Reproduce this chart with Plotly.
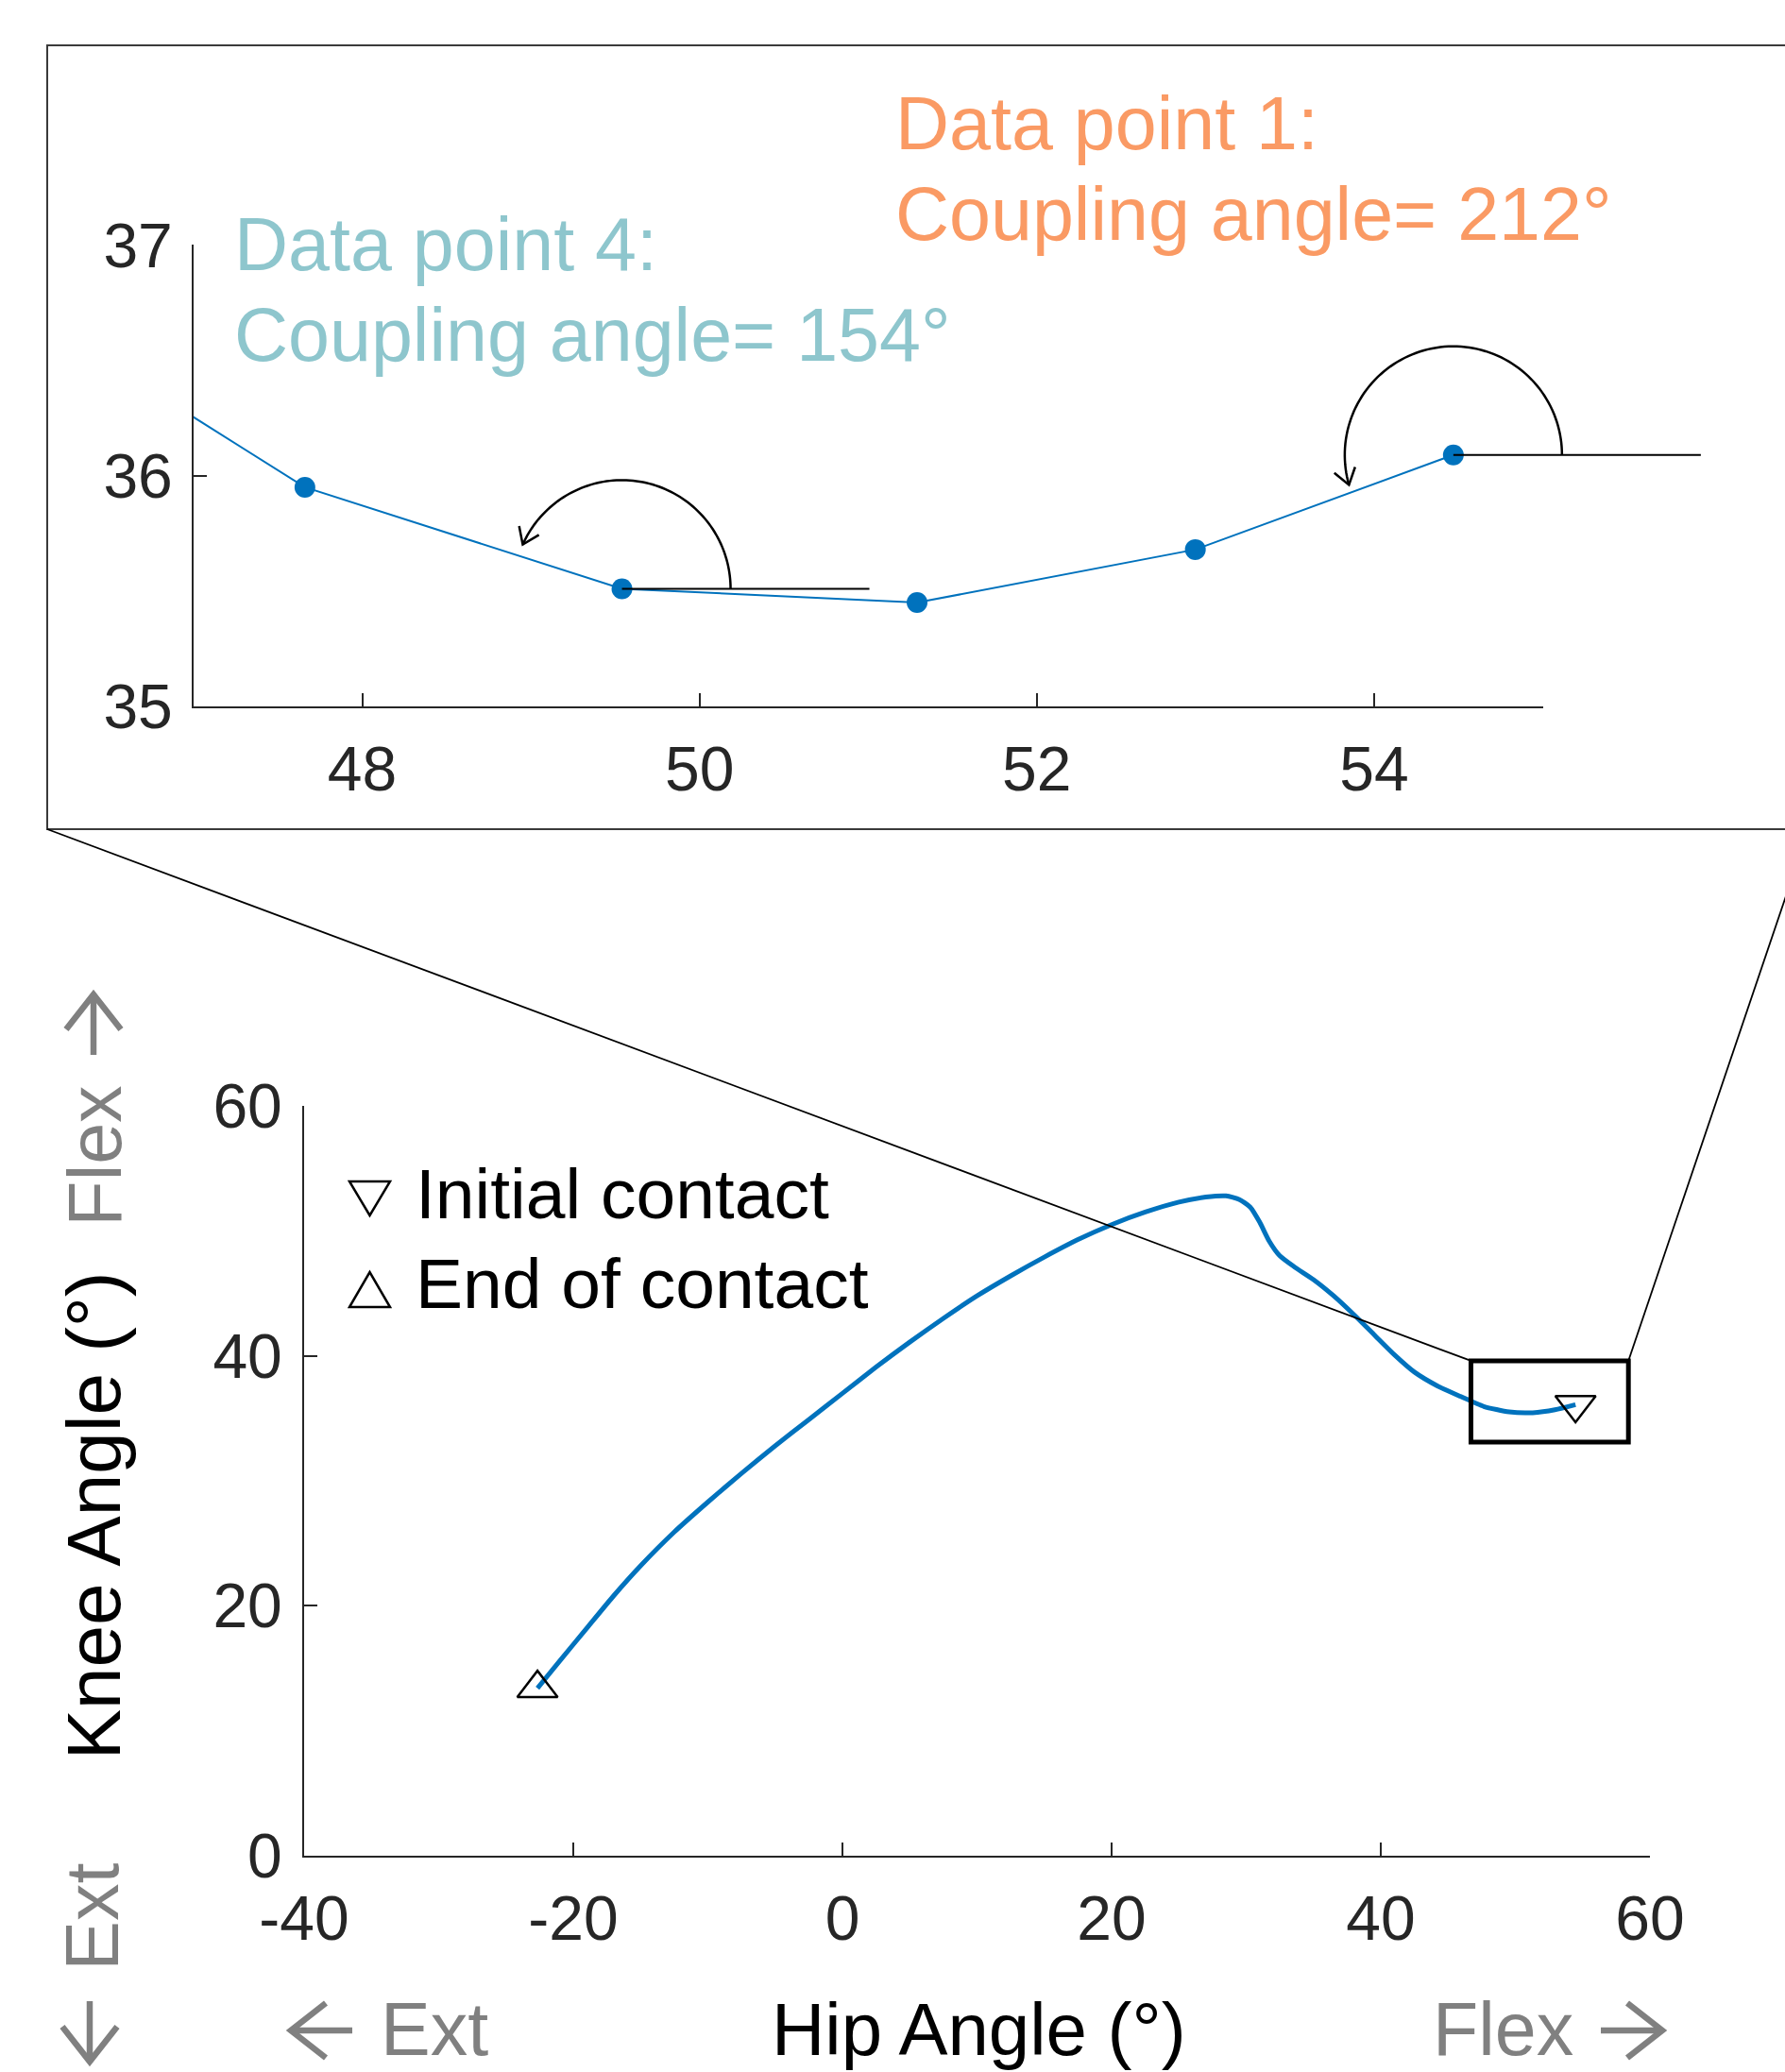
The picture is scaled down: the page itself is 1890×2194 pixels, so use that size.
import numpy as np
import plotly.graph_objects as go

# ---------------- data ----------------
# Hip / knee angle trajectory, ordered from initial contact to end of contact
hip_angle = [54.47, 52.94, 51.29, 49.54, 47.66, 45.9, 44.2, 42.5, 41.0, 39.5,
             38.0, 36.5, 35.0, 33.6, 32.5, 31.7, 31.0, 30.3, 29.5, 28.5,
             27.0, 25.0, 22.5, 20.0, 17.5, 15.0, 12.5, 10.0, 7.5, 5.0,
             2.5, 0.0, -2.5, -5.0, -7.5, -10.0, -12.5, -15.0, -17.0, -19.0,
             -21.0, -22.66]
knee_angle = [36.09, 35.68, 35.45, 35.51, 35.95, 36.76, 37.6, 38.7, 40.1, 41.7,
              43.3, 44.8, 46.1, 47.1, 48.0, 49.2, 50.7, 51.9, 52.5, 52.8,
              52.7, 52.3, 51.5, 50.5, 49.3, 47.9, 46.4, 44.8, 43.0, 41.1,
              39.1, 37.0, 34.9, 32.8, 30.6, 28.3, 25.9, 23.2, 20.8, 18.2,
              15.6, 13.4]

data_point_labels = ["Data point 1:", "Data point 4:"]
data_point_index = [0, 3]
coupling_angles = [212, 154]
legend_labels = ["Initial contact", "End of contact"]

main_x_ticks = [-40, -20, 0, 20, 40, 60]
main_y_ticks = [0, 20, 40, 60]
inset_x_ticks = [48, 50, 52, 54]
inset_y_ticks = [35, 36, 37]

# ---------------- layout constants ----------------
W, H = 1890, 2194
MAIN = dict(x0=322, x1=1747, ytop=1171, ybot=1965, xr=(-40, 60), yr=(0, 60))
INSET = dict(x0=205, x1=1633.5, ytop=259.4, ybot=748, xr=(47, 55), yr=(35, 37))
ZOOM_BOX = dict(x0=46.7, x1=58.4, y0=33.1, y1=39.6)     # in main-axis units
INSET_FRAME = dict(x0=50, x1=1915, ytop=48, ybot=878)  # pixels
ARC_R = 115
ARC_END_DEG = [196, 156]
REF_LINE_LEN = 262

FONT = "Arial, 'Liberation Sans', sans-serif"
BLUE = "#0072BD"
AXC = "#262626"
ORANGE = "#FA9A64"
TEAL = "#8EC6CD"
GRAY = "#808080"
label_colors = [ORANGE, TEAL]


def to_px(ax, x, y):
    xp = ax["x0"] + (x - ax["xr"][0]) / (ax["xr"][1] - ax["xr"][0]) * (ax["x1"] - ax["x0"])
    yp = ax["ybot"] - (y - ax["yr"][0]) / (ax["yr"][1] - ax["yr"][0]) * (ax["ybot"] - ax["ytop"])
    return xp, yp


def pp(xp, yp):
    return xp / W, 1 - yp / H


def dom(ax):
    return [ax["x0"] / W, ax["x1"] / W], [1 - ax["ybot"] / H, 1 - ax["ytop"] / H]


def poly_path(points, close=False):
    pts = [pp(*q) for q in points]
    s = "M " + " L ".join(f"{x:.5f},{y:.5f}" for x, y in pts)
    return s + (" Z" if close else "")


fig = go.Figure()

# main trajectory
fig.add_trace(go.Scatter(x=hip_angle, y=knee_angle, mode="lines",
                         line=dict(color=BLUE, width=5, shape="spline", smoothing=0.6),
                         xaxis="x", yaxis="y", hoverinfo="skip"))
fig.add_trace(go.Scatter(x=[hip_angle[0]], y=[knee_angle[0]], mode="markers",
                         marker=dict(symbol="triangle-down-open", size=37, color="black",
                                     line=dict(width=2.5, color="black")),
                         xaxis="x", yaxis="y", name=legend_labels[0]))
fig.add_trace(go.Scatter(x=[hip_angle[-1]], y=[knee_angle[-1]], mode="markers",
                         marker=dict(symbol="triangle-up-open", size=37, color="black",
                                     line=dict(width=2.5, color="black")),
                         xaxis="x", yaxis="y", name=legend_labels[1]))

# inset trajectory
fig.add_trace(go.Scatter(x=hip_angle, y=knee_angle, mode="lines+markers",
                         line=dict(color=BLUE, width=2),
                         marker=dict(color=BLUE, size=22),
                         xaxis="x2", yaxis="y2", hoverinfo="skip"))

axis_common = dict(showgrid=False, zeroline=False, showline=True, linecolor=AXC,
                   linewidth=2, ticks="inside", ticklen=14, tickwidth=2, tickcolor=AXC,
                   automargin=False,
                   tickfont=dict(family=FONT, size=66, color=AXC))

mx, my = dom(MAIN)
ix, iy = dom(INSET)
fig.update_layout(
    template="none",
    width=W, height=H, autosize=False,
    margin=dict(l=0, r=0, t=0, b=0, pad=0, autoexpand=False),
    paper_bgcolor="white", plot_bgcolor="rgba(0,0,0,0)",
    showlegend=False,
    xaxis=dict(domain=mx, range=list(MAIN["xr"]), anchor="y", tickvals=main_x_ticks,
               ticktext=[str(v) for v in main_x_ticks],
               ticklabelstandoff=8, **axis_common),
    yaxis=dict(domain=my, range=list(MAIN["yr"]), anchor="x", tickvals=main_y_ticks,
               ticktext=[str(v) for v in main_y_ticks],
               ticklabelstandoff=8, **axis_common),
    xaxis2=dict(domain=ix, range=list(INSET["xr"]), anchor="y2", tickvals=inset_x_ticks,
                ticktext=[str(v) for v in inset_x_ticks],
                ticklabelstandoff=8, **axis_common),
    yaxis2=dict(domain=iy, range=list(INSET["yr"]), anchor="x2", tickvals=inset_y_ticks,
                ticktext=[str(v) for v in inset_y_ticks],
                ticklabelstandoff=7, **axis_common),
)

shapes = []
# inset frame
fx0, fy0 = pp(INSET_FRAME["x0"], INSET_FRAME["ybot"])
fx1, fy1 = pp(INSET_FRAME["x1"], INSET_FRAME["ytop"])
shapes.append(dict(type="rect", xref="paper", yref="paper", x0=fx0, x1=fx1, y0=fy0, y1=fy1,
                   line=dict(color="#3a3a3a", width=2)))
# zoom rectangle on main plot
shapes.append(dict(type="rect", xref="x", yref="y", x0=ZOOM_BOX["x0"], x1=ZOOM_BOX["x1"],
                   y0=ZOOM_BOX["y0"], y1=ZOOM_BOX["y1"], line=dict(color="black", width=5)))
# connector lines
tl = to_px(MAIN, ZOOM_BOX["x0"], ZOOM_BOX["y1"])
tr = to_px(MAIN, ZOOM_BOX["x1"], ZOOM_BOX["y1"])
for (a, b) in [(tl, (INSET_FRAME["x0"], INSET_FRAME["ybot"])),
               (tr, (INSET_FRAME["x1"], INSET_FRAME["ybot"]))]:
    ax_, ay_ = pp(*a)
    bx_, by_ = pp(*b)
    shapes.append(dict(type="line", xref="paper", yref="paper", x0=ax_, y0=ay_, x1=bx_, y1=by_,
                       line=dict(color="black", width=1.8)))

# coupling-angle arcs with reference lines
for idx, end_deg in zip(data_point_index, ARC_END_DEG):
    cx, cy = to_px(INSET, hip_angle[idx], knee_angle[idx])
    shapes.append(dict(type="path", xref="paper", yref="paper",
                       path=poly_path([(cx, cy), (cx + REF_LINE_LEN, cy)]),
                       line=dict(color="black", width=2)))
    th = np.radians(np.linspace(0, end_deg, 90))
    arc = [(cx + ARC_R * np.cos(t), cy - ARC_R * np.sin(t)) for t in th]
    shapes.append(dict(type="path", xref="paper", yref="paper", path=poly_path(arc),
                       line=dict(color="black", width=2.5)))
    te = th[-1]
    tipx, tipy = arc[-1]
    bx, by = np.sin(te), np.cos(te)  # backwards direction (pixel coords)
    arms = []
    for s in (1, -1):
        ang = np.radians(35) * s
        vx = bx * np.cos(ang) - by * np.sin(ang)
        vy = bx * np.sin(ang) + by * np.cos(ang)
        arms.append((tipx + 20 * vx, tipy + 20 * vy))
    shapes.append(dict(type="path", xref="paper", yref="paper",
                       path=poly_path([arms[0], (tipx, tipy), arms[1]]),
                       line=dict(color="black", width=2.5)))

# legend symbols
LEG = dict(x0=370, x1=413, rows=[(1251, 1287, "down"), (1347, 1384, "up")])
for (ytop_, ybot_, kind) in LEG["rows"]:
    xm = (LEG["x0"] + LEG["x1"]) / 2
    if kind == "down":
        v = [(LEG["x0"], ytop_), (LEG["x1"], ytop_), (xm, ybot_)]
    else:
        v = [(LEG["x0"], ybot_), (LEG["x1"], ybot_), (xm, ytop_)]
    shapes.append(dict(type="path", xref="paper", yref="paper", path=poly_path(v, close=True),
                       line=dict(color="black", width=2.5)))

# direction arrows: tip, direction, length
ARROWS = [((308, 2150), (-1, 0), 65), ((1760, 2150), (1, 0), 65),
          ((99, 1053), (0, -1), 64), ((95, 2183), (0, 1), 64)]
for (tx, ty), (dx, dy), ln in ARROWS:
    tail = (tx - dx * ln, ty - dy * ln)
    px_, py_ = -dy, dx
    a1 = (tx - dx * 37 + px_ * 29, ty - dy * 37 + py_ * 29)
    a2 = (tx - dx * 37 - px_ * 29, ty - dy * 37 - py_ * 29)
    shapes.append(dict(type="path", xref="paper", yref="paper",
                       path=poly_path([tail, (tx, ty)]), line=dict(color=GRAY, width=6.5)))
    shapes.append(dict(type="path", xref="paper", yref="paper",
                       path=poly_path([a1, (tx, ty), a2]), line=dict(color=GRAY, width=6.5)))

fig.update_layout(shapes=shapes)


def text_ann(txt, xp, baseline, size, color, xanchor="left", angle=0, yc=None):
    if yc is None:
        yc = baseline - 0.3465 * size
    x, y = pp(xp, yc)
    fig.add_annotation(text=txt, x=x, y=y, xref="paper", yref="paper", showarrow=False,
                       xanchor=xanchor, yanchor="middle", textangle=angle, borderpad=0,
                       font=dict(family=FONT, size=size, color=color))


# data point annotations
text_ann(data_point_labels[0], 947, 158, 79, label_colors[0])
text_ann(f"Coupling angle= {coupling_angles[0]}°", 947, 254, 79, label_colors[0])
text_ann(data_point_labels[1], 247, 286, 79, label_colors[1])
text_ann(f"Coupling angle= {coupling_angles[1]}°", 247, 382, 79, label_colors[1])

# legend text
text_ann(legend_labels[0], 439, 1290, 75, "black")
text_ann(legend_labels[1], 439, 1385, 75, "black")

# axis titles and direction hints
text_ann("Hip Angle (°)", 1036, 2176, 78, "black", xanchor="center")
text_ann("Ext", 402, 2176, 79, GRAY)
text_ann("Flex", 1516, 2176, 79, GRAY)
text_ann("Knee Angle (°)", 127 - 0.3465 * 80, None, 80, "black", xanchor="center", angle=-90, yc=1605)
text_ann("Flex", 127 - 0.3465 * 79, None, 79, GRAY, xanchor="center", angle=-90, yc=1224)
text_ann("Ext", 124 - 0.3465 * 79, None, 79, GRAY, xanchor="center", angle=-90, yc=2030)

fig.write_html(
    "out.html",
    config={"displayModeBar": False},
    post_script="document.body.style.margin='0';"
                "document.documentElement.style.overflow='hidden';"
                "document.body.style.overflow='hidden';",
)
